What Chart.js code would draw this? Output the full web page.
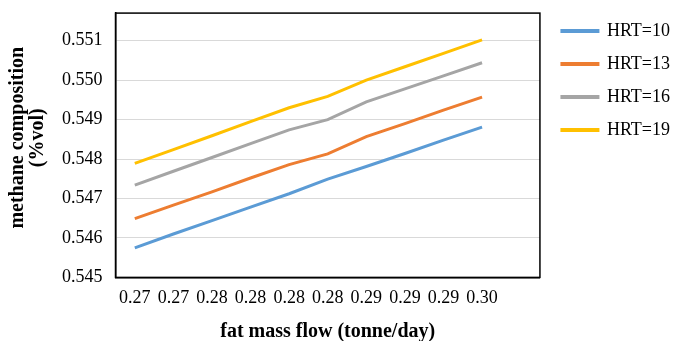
<!DOCTYPE html>
<html>
<head>
<meta charset="utf-8">
<script src="https://cdn.jsdelivr.net/npm/chart.js@4"></script>
<style>
  body { margin: 0; background: #fff; }
  #wrap { width: 673px; height: 341px; }
</style>
</head>
<body>
<div id="wrap"><canvas id="grafiks"></canvas></div>
<script>
// fat mass flow categories (last slot is empty, as in the original)
const kategorijas = ['0.27', '0.27', '0.28', '0.28', '0.28', '0.28', '0.29', '0.29', '0.29', '0.30', ''];

const hrt10 = [0.54575, 0.54610, 0.54644, 0.54678, 0.54712, 0.54749, 0.54781, 0.54814, 0.54848, 0.54881, null];
const hrt13 = [0.54649, 0.54683, 0.54717, 0.54752, 0.54786, 0.54813, 0.54857, 0.54890, 0.54924, 0.54957, null];
const hrt16 = [0.54734, 0.54769, 0.54804, 0.54839, 0.54874, 0.54900, 0.54945, 0.54978, 0.55011, 0.55044, null];
const hrt19 = [0.54789, 0.54824, 0.54859, 0.54895, 0.54930, 0.54959, 0.55000, 0.55034, 0.55068, 0.55102, null];

const yMin = 0.545;
const yMax = 0.5517;
const yTicks = [0.545, 0.546, 0.547, 0.548, 0.549, 0.550, 0.551];

const serifs = "'Liberation Serif', 'Times New Roman', serif";

const rami = {
    id: 'rami',
    afterLayout(chart) {
        // leave a small gap between the plot frame and the legend
        chart.legend.left += 7;
        chart.legend.right += 7;
    },
    afterDraw(chart) {
        const a = chart.chartArea;
        const ctx = chart.ctx;
        ctx.save();
        ctx.strokeStyle = '#000';
        ctx.lineWidth = 1.5;
        ctx.strokeRect(a.left, a.top, a.right - a.left, a.bottom - a.top);
        ctx.restore();
    }
};

function linija(nos, dati, krasa) {
    return {
        label: nos,
        data: dati,
        borderColor: krasa,
        backgroundColor: krasa,
        borderWidth: 3,
        pointRadius: 0,
        tension: 0,
        fill: false
    };
}

new Chart(document.getElementById('grafiks'), {
    type: 'line',
    data: {
        labels: kategorijas,
        datasets: [
            linija('HRT=10', hrt10, '#5b9bd5'),
            linija('HRT=13', hrt13, '#ed7d31'),
            linija('HRT=16', hrt16, '#a5a5a5'),
            linija('HRT=19', hrt19, '#ffc000')
        ]
    },
    options: {
        responsive: true,
        maintainAspectRatio: false,
        animation: false,
        layout: { padding: { left: 8, top: 1, right: 0, bottom: -3 } },
        plugins: {
            legend: {
                position: 'right',
                align: 'start',
                title: {
                    display: true,
                    text: ' ',
                    font: { size: 5, lineHeight: 1.2 },
                    padding: 0
                },
                labels: {
                    font: { family: serifs, size: 18 },
                    color: '#000',
                    boxWidth: 36,
                    boxHeight: 1,
                    padding: 15
                }
            },
            tooltip: { enabled: false }
        },
        scales: {
            x: {
                offset: true,
                grid: { display: false, drawTicks: false },
                border: { color: '#000', width: 1.5 },
                ticks: {
                    font: { family: serifs, size: 18 },
                    color: '#000',
                    autoSkip: false,
                    maxRotation: 0,
                    padding: 10
                },
                title: {
                    display: true,
                    text: 'fat mass flow (tonne/day)',
                    font: { family: serifs, size: 20, weight: 'bold' },
                    color: '#000',
                    padding: { top: 1, bottom: 0 }
                }
            },
            y: {
                min: yMin,
                max: yMax,
                afterBuildTicks(axis) {
                    axis.ticks = yTicks.map(v => ({ value: v }));
                },
                grid: { color: '#d9d9d9', lineWidth: 1, drawTicks: false },
                border: { color: '#000', width: 1.5 },
                ticks: {
                    font: { family: serifs, size: 18, lineHeight: 0.01 },
                    color: '#000',
                    padding: 13,
                    callback: v => v.toFixed(3)
                },
                title: {
                    display: true,
                    text: ['   methane composition', '   (%vol)'],
                    font: { family: serifs, size: 20, weight: 'bold', lineHeight: 1.0 },
                    color: '#000',
                    padding: { top: 0, bottom: 1 }
                }
            }
        }
    },
    plugins: [rami]
});
</script>
</body>
</html>
